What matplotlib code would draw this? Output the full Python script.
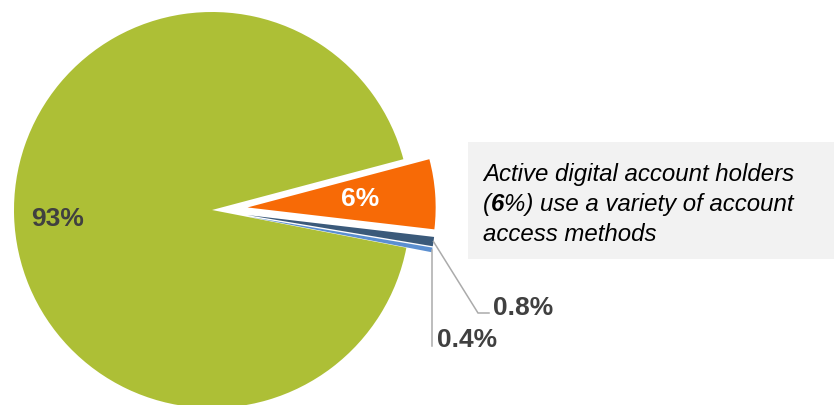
import numpy as np
import matplotlib
matplotlib.use('Agg')
import matplotlib.pyplot as plt
from matplotlib.patches import Rectangle

# account access split (percent)
shares = [0.4, 0.8, 6, 93]
share_labels = ['0.4%', '0.8%', '6%', '93%']
colors = ['#5B8FD0', '#3B5A7A', '#F76A06', '#ADBF36']
explode = [0.18, 0.18, 0.18, 0]

note_lines = ['Active digital account holders',
              ['(', '6', '%) use a variety of account'],
              'access methods']

W, H = 834, 405
R = 198.0          # pie radius in pixels
CX, CY = 212, 210  # pie centre in pixels


def X(px):
    return (px - CX) / R


def Y(py):
    return (CY - py) / R


plt.rcParams['font.family'] = ['Liberation Sans', 'DejaVu Sans']

fig = plt.figure(figsize=(W / 100, H / 100), dpi=100)
ax = fig.add_axes([0, 0, 1, 1])

wedges, _ = ax.pie(shares, colors=colors, explode=explode, startangle=-11,
                   counterclock=True, radius=1, center=(0, 0),
                   wedgeprops=dict(linewidth=0))
for w, e in zip(wedges, explode):
    if e > 0:
        w.set_radius(0.95)

ax.set_xlim(X(0), X(W))
ax.set_ylim(Y(H), Y(0))
ax.set_aspect('equal')
ax.axis('off')


def mid_point(w, frac, tilt=0.0):
    a = np.deg2rad((w.theta1 + w.theta2) / 2 + tilt)
    cx, cy = w.center
    return cx + frac * np.cos(a), cy + frac * np.sin(a)


lab_kw = dict(fontsize=19, fontweight='bold', color='#404040')

# big slices: labels inside
x, y = mid_point(wedges[3], 0.78, tilt=1.5)
ax.text(x, y, share_labels[3], ha='center', va='center', **lab_kw)
x, y = mid_point(wedges[2], 0.57)
ax.text(x, y, share_labels[2], ha='center', va='center',
        fontsize=19, fontweight='bold', color='white')

# small slices: labels outside with leader lines
lead = '#ABABAB'
x0, y0 = mid_point(wedges[1], 0.95)
ax.plot([x0, X(478), X(489)], [y0, Y(313), Y(313)], color=lead, lw=1.1,
        solid_joinstyle='miter')
ax.text(X(493), Y(315), share_labels[1], ha='left', va='baseline', **lab_kw)

x0, y0 = mid_point(wedges[0], 0.95)
ax.plot([x0, x0], [y0, Y(346)], color=lead, lw=1.1)
ax.text(X(437), Y(347), share_labels[0], ha='left', va='baseline', **lab_kw)

# note box
ax.add_patch(Rectangle((X(468), Y(259)), X(W + 5) - X(468), Y(142) - Y(259),
                       facecolor='#F2F2F2', edgecolor='none', zorder=0))

note_kw = dict(fontsize=17.3, style='italic', color='black', va='baseline')
fig.canvas.draw()
renderer = fig.canvas.get_renderer()
inv = ax.transData.inverted()
for i, line in enumerate(note_lines):
    yb = Y(181 + 30 * i)
    if isinstance(line, str):
        ax.text(X(483), yb, line, ha='left', **note_kw)
        continue
    xs = X(483)
    for j, part in enumerate(line):
        t = ax.text(xs, yb, part, ha='left',
                    fontweight='bold' if j == 1 else 'normal', **note_kw)
        bb = t.get_window_extent(renderer)
        xs = inv.transform((bb.x1, bb.y0))[0]

fig.savefig('out.png', dpi=100)
